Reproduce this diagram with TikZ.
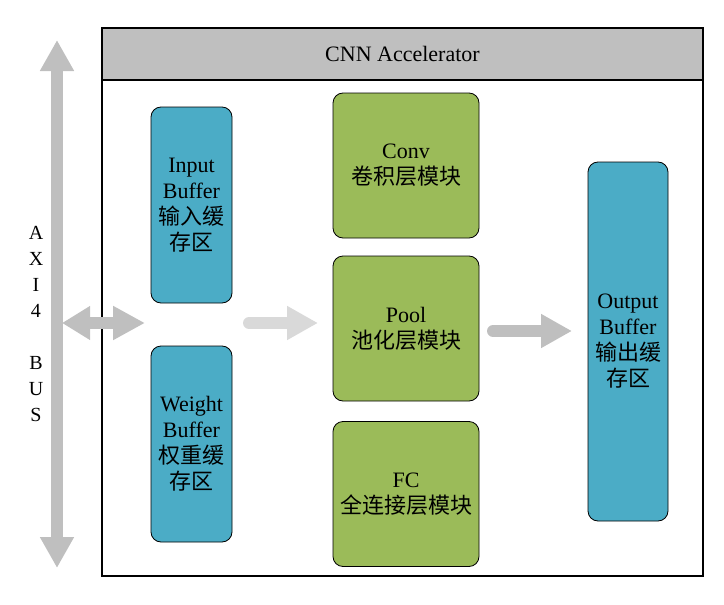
\documentclass[tikz,border=0pt]{standalone}
\usepackage{fontspec}
\setmainfont{Liberation Serif}
\newfontfamily\cjk{Noto Sans CJK SC}
\usetikzlibrary{arrows.meta,positioning}
\definecolor{hdr}{RGB}{191,191,191}
\definecolor{buf}{RGB}{75,172,198}
\definecolor{mod}{RGB}{155,187,89}
\definecolor{flowlt}{RGB}{217,217,217}
\newcommand{\zh}[1]{{\cjk #1}}

\begin{document}
\begin{tikzpicture}[x=1pt,y=-1pt,
  bufbox/.style={rectangle,draw=black,line width=0.8pt,fill=buf,rounded corners=10pt,
                 minimum width=81pt,align=center,
                 font=\fontsize{22}{26}\selectfont},
  modbox/.style={rectangle,draw=black,line width=0.8pt,fill=mod,rounded corners=10pt,
                 minimum width=146pt,minimum height=145pt,align=center,
                 font=\fontsize{22}{26}\selectfont},
  fatarrow/.style={line width=12pt,-{Triangle[width=32pt,length=31pt]}}]

  \useasboundingbox (0,0) rectangle (724,605);

  % frame and title bar
  \draw[line width=1.4pt] (102,28) rectangle (703,576);
  \node (hdr) [rectangle,draw=black,line width=1.4pt,fill=hdr,minimum width=601pt,
               minimum height=52pt,font=\fontsize{22}{26}\selectfont]
    at (402.5,54) {CNN Accelerator};

  % buffers
  \node (inbuf) [bufbox,minimum height=196pt] at (191.5,205)
    {Input\\Buffer\\\zh{输入缓}\\\zh{存区}};
  \node (wbuf) [bufbox,minimum height=196pt] at (191.5,444)
    {Weight\\Buffer\\\zh{权重缓}\\\zh{存区}};
  \node (outbuf) [bufbox,minimum width=80pt,minimum height=359pt] at (628,341.5)
    {Output\\Buffer\\\zh{输出缓}\\\zh{存区}};

  % compute modules
  \node (conv) [modbox] at (406,165.5) {Conv\\\zh{卷积层模块}};
  \node (pool) [modbox] at (406,328.5) {Pool\\\zh{池化层模块}};
  \node (fc)   [modbox] at (406,494)   {FC\\\zh{全连接层模块}};

  % bus
  \coordinate (busTop) at (57,40);
  \coordinate (busBot) at (57,568);
  \draw[fatarrow,hdr,{Triangle[width=32pt,length=31pt]}-{Triangle[width=32pt,length=31pt]}]
    (busTop) -- (busBot);
  \node (buslbl) [font=\fontsize{20}{26}\selectfont,align=center] at (36,324)
    {A\\X\\I\\4\\[26pt]B\\U\\S};

  % data flow
  \coordinate (busL) at (62,323);
  \coordinate (busR) at (145,323);
  \draw[fatarrow,hdr,{Triangle[width=32pt,length=28pt]}-{Triangle[width=32pt,length=32pt]}]
    (busL) -- (busR);
  \coordinate (bufL) at (249,323);
  \coordinate (bufR) at (318,323);
  \draw[fatarrow,flowlt,line cap=round] (bufL) -- (bufR);
  \coordinate (modL) at (493,331);
  \coordinate (modR) at (572,331);
  \draw[fatarrow,hdr,line cap=round] (modL) -- (modR);
\end{tikzpicture}
\end{document}
